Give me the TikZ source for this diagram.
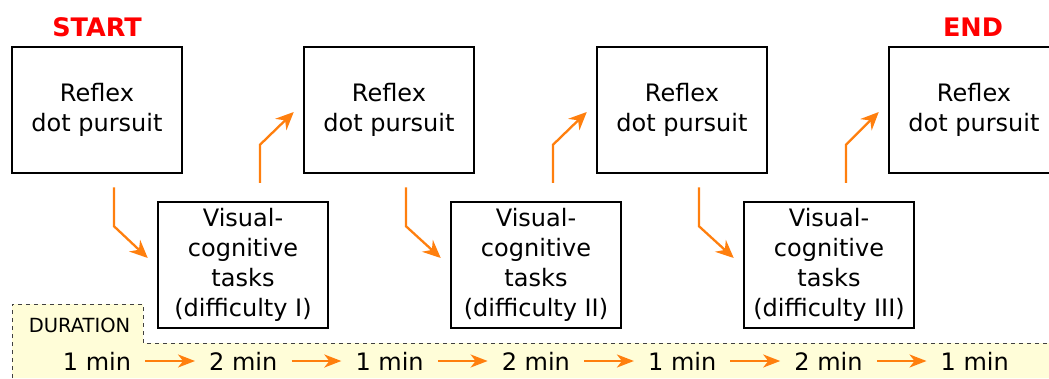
\documentclass[tikz,border=0pt]{standalone}
\usepackage{fontspec}
\setmainfont{DejaVu Sans}
\usetikzlibrary{calc,arrows.meta}
\definecolor{flowor}{RGB}{255,127,14}
\definecolor{bandyel}{RGB}{255,253,216}
\definecolor{startred}{RGB}{255,0,0}
\tikzset{
  stagebox/.style={draw=black,line width=2.5pt,minimum width=170pt,minimum height=126pt,align=center,inner sep=0pt,font=\fontsize{24}{30}\selectfont},
  flow/.style={draw=flowor,line width=2.3pt,-{Stealth[length=18pt,width=16pt,inset=6pt]}},
  durarrow/.style={draw=flowor,line width=2.3pt,-{Stealth[length=17pt,width=13pt,inset=5pt]},shorten <=14pt,shorten >=14pt},
  durtext/.style={inner sep=0pt,font=\fontsize{24}{28}\selectfont},
  marktext/.style={text=startred,font=\fontsize{25.5}{28}\selectfont\bfseries},
  banddash/.style={draw=black!75,line width=1pt,dash pattern=on 4pt off 4pt}
}
\begin{document}
\begin{tikzpicture}[x=1pt,y=-1pt]
\useasboundingbox (0,0) rectangle (1049,378);
\clip (0,0) rectangle (1049,378);
% duration band
\fill[bandyel] (12,304) -- (143,304) -- (143,343) -- (1049,343) -- (1049,378) -- (12,378) -- cycle;
\draw[banddash] (12,378) -- (12,304) -- (143,304) -- (143,343) -- (1049,343);
\node[inner sep=0pt,font=\fontsize{19.5}{22}\selectfont] (dur) at (79.5,325) {DURATION};
% stage boxes
\node[stagebox] (r1) at (97,110) {Reflex\\dot pursuit};
\node[stagebox] (r2) at (389,110) {Reflex\\dot pursuit};
\node[stagebox] (r3) at (682,110) {Reflex\\dot pursuit};
\node[stagebox] (r4) at (974,110) {Reflex\\dot pursuit};
\node[stagebox] (v1) at (243,265) {Visual-\\cognitive\\tasks\\(difficulty I)};
\node[stagebox] (v2) at (536,265) {Visual-\\cognitive\\tasks\\(difficulty II)};
\node[stagebox] (v3) at (829,265) {Visual-\\cognitive\\tasks\\(difficulty III)};
\node[marktext] (start) at (97,27) {START};
\node[marktext] (end) at (973,27) {END};
% flow arrows
\draw[flow] ($(r1.south)+(17,13)$) -- ++(0,39) -- ($(v1.west)+(-9,-7)$);
\draw[flow] ($(r2.south)+(17,13)$) -- ++(0,39) -- ($(v2.west)+(-9,-7)$);
\draw[flow] ($(r3.south)+(17,13)$) -- ++(0,39) -- ($(v3.west)+(-9,-7)$);
\draw[flow] ($(v1.north)+(17,-18)$) -- ++(0,-38) -- ($(r2.west)+(-9,2)$);
\draw[flow] ($(v2.north)+(17,-18)$) -- ++(0,-38) -- ($(r3.west)+(-9,2)$);
\draw[flow] ($(v3.north)+(17,-18)$) -- ++(0,-38) -- ($(r4.west)+(-9,2)$);
% durations
\node[durtext] (d1) at (97,361) {1 min};
\node[durtext] (d2) at (243.3,361) {2 min};
\node[durtext] (d3) at (389.6,361) {1 min};
\node[durtext] (d4) at (535.9,361) {2 min};
\node[durtext] (d5) at (682.2,361) {1 min};
\node[durtext] (d6) at (828.5,361) {2 min};
\node[durtext] (d7) at (974.8,361) {1 min};
\draw[durarrow] (d1.east) -- (d2.west);
\draw[durarrow] (d2.east) -- (d3.west);
\draw[durarrow] (d3.east) -- (d4.west);
\draw[durarrow] (d4.east) -- (d5.west);
\draw[durarrow] (d5.east) -- (d6.west);
\draw[durarrow] (d6.east) -- (d7.west);
\end{tikzpicture}
\end{document}
